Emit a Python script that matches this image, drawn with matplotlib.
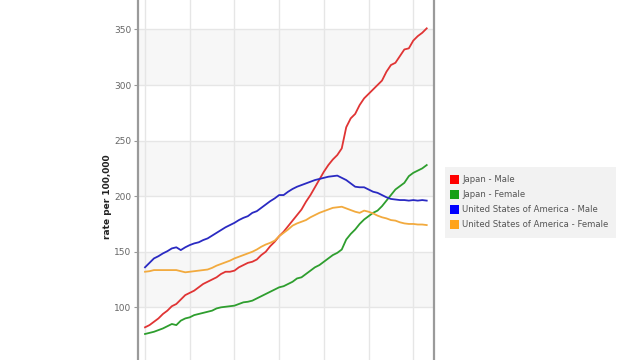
import matplotlib
matplotlib.use("Agg")
import matplotlib.pyplot as plt
from matplotlib.patches import Rectangle

years = list(range(1950, 2014))

japan_male = [82, 84, 87, 90, 94, 97, 101, 103, 107, 111,
              113, 115, 118, 121, 123, 125, 127, 130, 132, 132,
              133, 136, 138, 140, 141, 143, 147, 150, 155, 159,
              164, 168, 173, 178, 183, 188, 195, 201, 208, 215,
              222, 228, 233, 237, 243, 262, 270, 274, 282, 288,
              292, 296, 300, 304, 312, 318, 320, 326, 332, 333,
              340, 344, 347, 351]

japan_female = [76, 77, 78, 79.5, 81, 83, 85, 84, 88, 90,
                91, 93, 94, 95, 96, 97, 99, 100, 100.5, 101,
                101.5, 103, 104.5, 105, 106, 108, 110, 112, 114, 116,
                118, 119, 121, 123, 126, 127, 130, 133, 136, 138,
                141, 144, 147, 149, 152, 161, 166, 170, 175, 179,
                182, 185, 187, 191, 196, 201, 206, 209, 212, 218,
                221, 223, 225, 228]

usa_male = [136, 140, 144, 146, 148.5, 150.5, 153, 154, 151.5, 154,
            156, 157.5, 158.5, 160.5, 162, 164.5, 167, 169.5, 172, 174,
            176, 178.5, 180.5, 182, 185, 186.5, 189.5, 192.5, 195.5, 198,
            201, 201, 204, 206.5, 208.5, 210, 211.5, 213, 214.5, 215.5,
            216.5, 217.5, 218, 218.5, 216.5, 214.5, 211.5, 208.5, 208, 208,
            206, 204, 203, 201, 199, 197.5, 197, 196.5, 196.5, 196,
            196.5, 196, 196.5, 196]

usa_female = [132, 132.5, 133.5, 133.5, 133.5, 133.5, 133.5, 133.5, 132.5, 131.5,
              132, 132.5, 133, 133.5, 134, 135.5, 137.5, 139, 140.5, 142,
              144, 145.5, 147, 148.5, 150, 152, 154.5, 156.5, 158, 160,
              164, 167, 170, 173.5, 175.5, 177, 178.5, 181, 183, 185,
              186.5, 188, 189.5, 190, 190.5, 189, 187.5, 186, 185, 187,
              186, 184.5, 182.5, 181, 180, 178.5, 178, 176.5, 175.5, 175,
              175, 174.5, 174.5, 174]

series_labels = ["Japan - Male", "Japan - Female",
                 "United States of America - Male", "United States of America - Female"]
line_colors = ["#e03434", "#2e9e2e", "#2a2ac2", "#f2aa3e"]
legend_colors = ["#ff0000", "#16a016", "#0000ff", "#ffa31a"]
y_ticks = [100, 150, 200, 250, 300, 350]
y_grid = [50, 100, 150, 200, 250, 300, 350]
x_grid = [1950, 1960, 1970, 1980, 1990, 2000, 2010]

W, H = 640, 360
fig = plt.figure(figsize=(6.4, 3.6), dpi=100)
ax = fig.add_axes([138 / W, 0, (434 - 138) / W, 1])

ax.set_ylim(52.6, 376.5)
ax.set_xlim(1948.43, 2014.63)

# alternating bands
for lo in [100, 200, 300]:
    ax.axhspan(lo, lo + 50, color="#f7f7f7", zorder=0, lw=0)

for yv in y_grid:
    ax.axhline(yv, color="#e6e6e6", lw=1.0, zorder=1)
for xv in x_grid:
    ax.axvline(xv, color="#e6e6e6", lw=1.0, zorder=1)

for vals, c in zip([japan_male, japan_female, usa_male, usa_female], line_colors):
    ax.plot(years, vals, color=c, lw=1.3, zorder=3)

ax.set_yticks(y_ticks)
ax.set_yticklabels([str(v) for v in y_ticks])
ax.tick_params(axis="y", colors="#999999", labelcolor="#666666", labelsize=6.5,
               length=3, width=0.8, pad=2)
ax.set_xticks([])
for s in ["top", "bottom"]:
    ax.spines[s].set_visible(False)
for s in ["left", "right"]:
    ax.spines[s].set_color("#9a9a9a")
    ax.spines[s].set_linewidth(1.6)

fig.text(107 / W, 1 - 197 / H, "rate per 100,000", rotation=90, ha="center", va="center",
         fontsize=6.5, fontweight="bold", color="#222222")

# legend box drawn in figure pixel coordinates
fig.patches.append(Rectangle((445 / W, 1 - 238 / H), (616 - 445) / W, (238 - 167) / H,
                             transform=fig.transFigure, facecolor="#f2f2f2",
                             edgecolor="none", zorder=0))
row_y = [179.5, 194.5, 209.5, 224.5]
for ry, lab, c in zip(row_y, series_labels, legend_colors):
    fig.patches.append(Rectangle((449.5 / W, 1 - (ry + 4.5) / H), 9 / W, 9 / H,
                                 transform=fig.transFigure, facecolor=c,
                                 edgecolor="none", zorder=2))
    fig.text(462.5 / W, 1 - ry / H, lab, ha="left", va="center",
             fontsize=6.1, color="#555555")

fig.savefig("out.png", dpi=100)
